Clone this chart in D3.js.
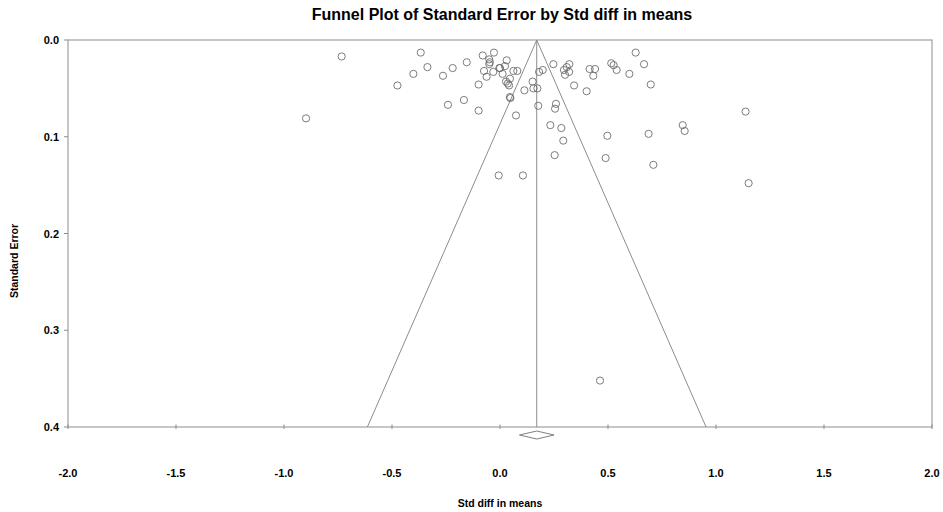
<!DOCTYPE html>
<html>
<head>
<meta charset="utf-8">
<script src="https://cdn.jsdelivr.net/npm/d3@7"></script>
<style>
  body { margin: 0; background: #fff; }
  text { font-family: "Liberation Sans", Arial, sans-serif; font-weight: bold; fill: #000; }
</style>
</head>
<body>
<div id="chart"></div>
<script>
// study effects (Std diff in means) and their standard errors
var effect = [-0.898, -0.733, -0.475, -0.401, -0.367, -0.336, -0.264, -0.241, -0.219, -0.167,
  -0.154, -0.099, -0.099, -0.080, -0.028, -0.050, -0.047, -0.050, -0.074, -0.062,
  -0.031, 0.000, -0.003, 0.031, 0.023, 0.012, 0.062, 0.080, 0.046, 0.028,
  0.036, 0.042, 0.046, 0.048, 0.074, -0.006, 0.106, 0.113, 0.151, 0.155,
  0.173, 0.177, 0.181, 0.198, 0.247, 0.259, 0.255, 0.233, 0.284, 0.293,
  0.253, 0.296, 0.309, 0.321, 0.301, 0.320, 0.343, 0.401, 0.415, 0.440,
  0.432, 0.515, 0.526, 0.540, 0.599, 0.628, 0.667, 0.698, 0.497, 0.489,
  0.688, 0.710, 0.846, 0.855, 1.137, 1.151, 0.463]
var stdErr = [0.081, 0.017, 0.047, 0.035, 0.013, 0.028, 0.037, 0.067, 0.029, 0.062,
  0.023, 0.046, 0.073, 0.016, 0.013, 0.020, 0.023, 0.025, 0.032, 0.038,
  0.033, 0.029, 0.029, 0.021, 0.027, 0.035, 0.032, 0.032, 0.040, 0.043,
  0.045, 0.047, 0.059, 0.060, 0.078, 0.140, 0.140, 0.052, 0.043, 0.050,
  0.050, 0.068, 0.033, 0.031, 0.025, 0.066, 0.071, 0.088, 0.091, 0.104,
  0.119, 0.031, 0.028, 0.025, 0.036, 0.033, 0.047, 0.053, 0.030, 0.030,
  0.037, 0.024, 0.026, 0.031, 0.035, 0.013, 0.025, 0.046, 0.099, 0.122,
  0.097, 0.129, 0.088, 0.094, 0.074, 0.148, 0.352]

var pooled = 0.17       // combined effect
var pooledCI = 0.08     // half width of the diamond
var xTicks = [-2.0, -1.5, -1.0, -0.5, 0.0, 0.5, 1.0, 1.5, 2.0]
var yTicks = [0.0, 0.1, 0.2, 0.3, 0.4]

var W = 943, H = 512
var margin = {top: 40, right: 11, bottom: 85, left: 68}
var width = W - margin.left - margin.right,
    height = H - margin.top - margin.bottom

var svg = d3.select("#chart").append("svg")
  .attr("width", W).attr("height", H)

var g = svg.append("g")
  .attr("transform", "translate(" + margin.left + "," + margin.top + ")")

var x = d3.scaleLinear().domain([-2, 2]).range([0, width])
var y = d3.scaleLinear().domain([0, 0.4]).range([0, height])

var lineCol = "#8c8c8c"

// box
g.append("rect")
  .attr("x", 0).attr("y", 0)
  .attr("width", width).attr("height", height)
  .attr("fill", "none").attr("stroke", "#a0a0a0").attr("stroke-width", 1.2)

// x ticks (crossing the bottom line)
g.selectAll(".xt").data(xTicks).enter().append("line")
  .attr("x1", function(d) { return x(d) }).attr("x2", function(d) { return x(d) })
  .attr("y1", height - 2.5).attr("y2", height + 2)
  .attr("stroke", lineCol)
g.selectAll(".xl").data(xTicks).enter().append("text")
  .attr("x", function(d) { return x(d) })
  .attr("y", height + 50)
  .attr("text-anchor", "middle")
  .style("font-size", "11px")
  .text(function(d) { return d3.format(".1f")(d).replace("−", "-") })

// y ticks (outside on the left)
g.selectAll(".yt").data(yTicks).enter().append("line")
  .attr("x1", -4).attr("x2", 0)
  .attr("y1", function(d) { return y(d) }).attr("y2", function(d) { return y(d) })
  .attr("stroke", lineCol)
g.selectAll(".yl").data(yTicks).enter().append("text")
  .attr("x", -9)
  .attr("y", function(d) { return y(d) + 4 })
  .attr("text-anchor", "end")
  .style("font-size", "11px")
  .text(function(d) { return d3.format(".1f")(d) })

// funnel: 95% limits around the pooled effect
var lo = y.domain()[1]
g.append("path")
  .attr("d", d3.line()([
    [x(pooled - 1.96 * lo), y(lo)],
    [x(pooled), y(0)],
    [x(pooled + 1.96 * lo), y(lo)]
  ]))
  .attr("fill", "none").attr("stroke", lineCol).attr("stroke-width", 1)
g.append("line")
  .attr("x1", x(pooled)).attr("x2", x(pooled))
  .attr("y1", y(0)).attr("y2", y(lo))
  .attr("stroke", lineCol).attr("stroke-width", 1)

// studies
g.selectAll("circle").data(effect).enter().append("circle")
  .attr("cx", function(d) { return x(d) })
  .attr("cy", function(d, i) { return y(stdErr[i]) })
  .attr("r", 3.6)
  .attr("fill", "none").attr("stroke", "#6e6e6e").attr("stroke-width", 0.9)

// pooled diamond
g.append("path")
  .attr("d", d3.line()([
    [x(pooled - pooledCI), height + 8],
    [x(pooled), height + 4],
    [x(pooled + pooledCI), height + 8],
    [x(pooled), height + 12]
  ]) + "Z")
  .attr("fill", "none").attr("stroke", "#808080").attr("stroke-width", 1)

// titles
svg.append("text")
  .attr("x", 502).attr("y", 20)
  .attr("text-anchor", "middle")
  .style("font-size", "16px")
  .text("Funnel Plot of Standard Error by Std diff in means")

svg.append("text")
  .attr("x", 500).attr("y", 507)
  .attr("text-anchor", "middle")
  .style("font-size", "10.5px")
  .text("Std diff in means")

svg.append("text")
  .attr("transform", "translate(18,261) rotate(-90)")
  .attr("text-anchor", "middle")
  .style("font-size", "10.5px")
  .text("Standard Error")
</script>
</body>
</html>
